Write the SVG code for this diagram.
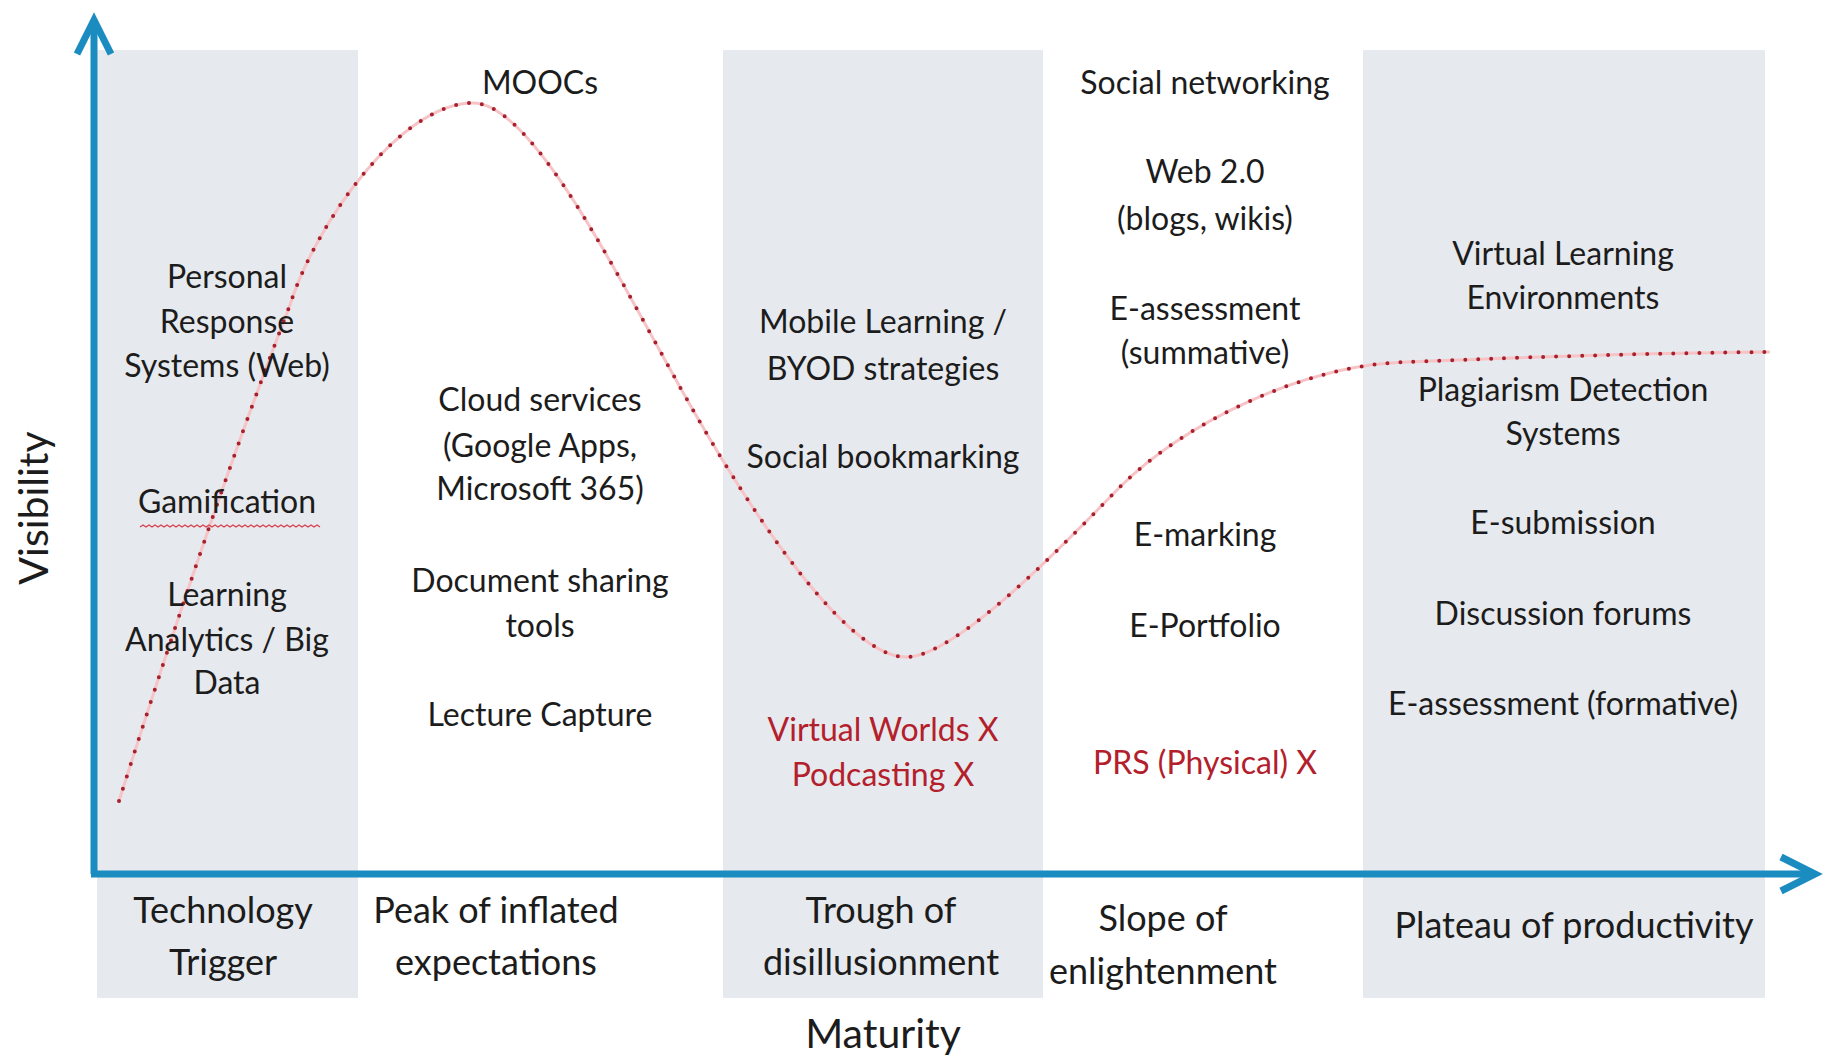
<svg xmlns="http://www.w3.org/2000/svg" width="1834" height="1057" viewBox="0 0 1834 1057">
<style>
  .band { fill: #e6e9ed; }
  .t { font-family: Lato, "Liberation Sans", sans-serif; font-size: 32px; fill: #1c1c1c; text-anchor: middle; }
  .r { fill: #b3202c; }
  .ph { font-family: Lato, "Liberation Sans", sans-serif; font-size: 36px; fill: #1c1c1c; text-anchor: middle; }
  .ax { font-family: Lato, "Liberation Sans", sans-serif; font-size: 41px; fill: #1c1c1c; text-anchor: middle; }
  .axis { stroke: #1a8cc0; stroke-width: 7; fill: none; }
  .curve-bg { stroke: #f6c3c7; stroke-width: 3; fill: none; }
  .curve { stroke: #a8202c; stroke-width: 4; fill: none; stroke-linecap: round; stroke-dasharray: 0 13; }
</style>
<defs>
  <marker id="arrow" markerUnits="userSpaceOnUse" viewBox="-44 -22 48 44" markerWidth="48" markerHeight="44" refX="0" refY="0" orient="auto" overflow="visible">
    <path d="M-34,-17 L0,0 L-34,17" fill="none" stroke="#1a8cc0" stroke-width="7" stroke-linejoin="miter"/>
  </marker>
</defs>
<rect x="0" y="0" width="1834" height="1057" fill="#ffffff"/>

<g id="bands">
  <rect id="band-trigger" class="band" x="97" y="50" width="261" height="948"/>
  <rect id="band-trough" class="band" x="723" y="50" width="320" height="948"/>
  <rect id="band-plateau" class="band" x="1363" y="50" width="402" height="948"/>
</g>

<g id="connectors">
  <path id="y-axis" class="axis" d="M94,874 L94,20" marker-end="url(#arrow)"/>
  <path id="x-axis" class="axis" d="M91,874 L1815,874" marker-end="url(#arrow)"/>
  <path id="hype-curve-line" class="curve-bg" d="M119,801 C170,640 230,460 290,305 C315,225 400,103 473,103 C535,103 623,288 693,410 C733,480 840,657 906,657 C960,657 1081,526 1121,486 C1181,426 1300,365 1407,362 C1500,358 1650,353 1770,352"/>
  <path id="hype-curve" class="curve" d="M119,801 C170,640 230,460 290,305 C315,225 400,103 473,103 C535,103 623,288 693,410 C733,480 840,657 906,657 C960,657 1081,526 1121,486 C1181,426 1300,365 1407,362 C1500,358 1650,353 1770,352"/>
</g>

<g id="axis-labels">
  <text id="label-visibility" class="ax" transform="translate(48,508) rotate(-90)">Visibility</text>
  <text id="label-maturity" class="ax" x="883" y="1048">Maturity</text>
</g>

<g id="phase-labels">
  <g id="phase-trigger"><text class="ph" x="223" y="923">Technology</text><text class="ph" x="223" y="975">Trigger</text></g>
  <g id="phase-peak"><text class="ph" x="496" y="923">Peak of inflated</text><text class="ph" x="496" y="975">expectations</text></g>
  <g id="phase-trough"><text class="ph" x="881" y="923">Trough of</text><text class="ph" x="881" y="975">disillusionment</text></g>
  <g id="phase-slope"><text class="ph" x="1163" y="931">Slope of</text><text class="ph" x="1163" y="984">enlightenment</text></g>
  <g id="phase-plateau"><text class="ph" x="1574" y="938">Plateau of productivity</text></g>
</g>

<g id="col-trigger">
  <g id="prs-web"><text class="t" x="227" y="288">Personal</text><text class="t" x="227" y="333">Response</text><text class="t" x="227" y="377">Systems (Web)</text></g>
  <g id="gamification"><text class="t" x="227" y="513">Gamification</text>
    <path d="M140,527 l3,-2 l3,2 l3,-2 l3,2 l3,-2 l3,2 l3,-2 l3,2 l3,-2 l3,2 l3,-2 l3,2 l3,-2 l3,2 l3,-2 l3,2 l3,-2 l3,2 l3,-2 l3,2 l3,-2 l3,2 l3,-2 l3,2 l3,-2 l3,2 l3,-2 l3,2 l3,-2 l3,2 l3,-2 l3,2 l3,-2 l3,2 l3,-2 l3,2 l3,-2 l3,2 l3,-2 l3,2 l3,-2 l3,2 l3,-2 l3,2 l3,-2 l3,2 l3,-2 l3,2 l3,-2 l3,2 l3,-2 l3,2 l3,-2 l3,2 l3,-2 l3,2 l3,-2 l3,2 l3,-2 l3,2" fill="none" stroke="#d9404e" stroke-width="1.3"/>
  </g>
  <g id="learning-analytics"><text class="t" x="227" y="606">Learning</text><text class="t" x="227" y="651">Analytics / Big</text><text class="t" x="227" y="694">Data</text></g>
</g>

<g id="col-peak">
  <g id="moocs"><text class="t" x="540" y="94">MOOCs</text></g>
  <g id="cloud"><text class="t" x="540" y="411">Cloud services</text><text class="t" x="540" y="457">(Google Apps,</text><text class="t" x="540" y="500">Microsoft 365)</text></g>
  <g id="doc-sharing"><text class="t" x="540" y="592">Document sharing</text><text class="t" x="540" y="637">tools</text></g>
  <g id="lecture-capture"><text class="t" x="540" y="726">Lecture Capture</text></g>
</g>

<g id="col-trough">
  <g id="mobile"><text class="t" x="883" y="333">Mobile Learning /</text><text class="t" x="883" y="380">BYOD strategies</text></g>
  <g id="bookmarking"><text class="t" x="883" y="468">Social bookmarking</text></g>
  <g id="virtual-worlds"><text class="t r" x="883" y="741">Virtual Worlds X</text></g>
  <g id="podcasting"><text class="t r" x="883" y="786">Podcasting X</text></g>
</g>

<g id="col-slope">
  <g id="social-networking"><text class="t" x="1205" y="94">Social networking</text></g>
  <g id="web20"><text class="t" x="1205" y="183">Web 2.0</text><text class="t" x="1205" y="230">(blogs, wikis)</text></g>
  <g id="e-assessment-summative"><text class="t" x="1205" y="320">E-assessment</text><text class="t" x="1205" y="364">(summative)</text></g>
  <g id="e-marking"><text class="t" x="1205" y="546">E-marking</text></g>
  <g id="e-portfolio"><text class="t" x="1205" y="637">E-Portfolio</text></g>
  <g id="prs-physical"><text class="t r" x="1205" y="774">PRS (Physical) X</text></g>
</g>

<g id="col-plateau">
  <g id="vle"><text class="t" x="1563" y="265">Virtual Learning</text><text class="t" x="1563" y="309">Environments</text></g>
  <g id="plagiarism"><text class="t" x="1563" y="401">Plagiarism Detection</text><text class="t" x="1563" y="445">Systems</text></g>
  <g id="e-submission"><text class="t" x="1563" y="534">E-submission</text></g>
  <g id="discussion"><text class="t" x="1563" y="625">Discussion forums</text></g>
  <g id="e-assessment-formative"><text class="t" x="1563" y="715">E-assessment (formative)</text></g>
</g>
</svg>
